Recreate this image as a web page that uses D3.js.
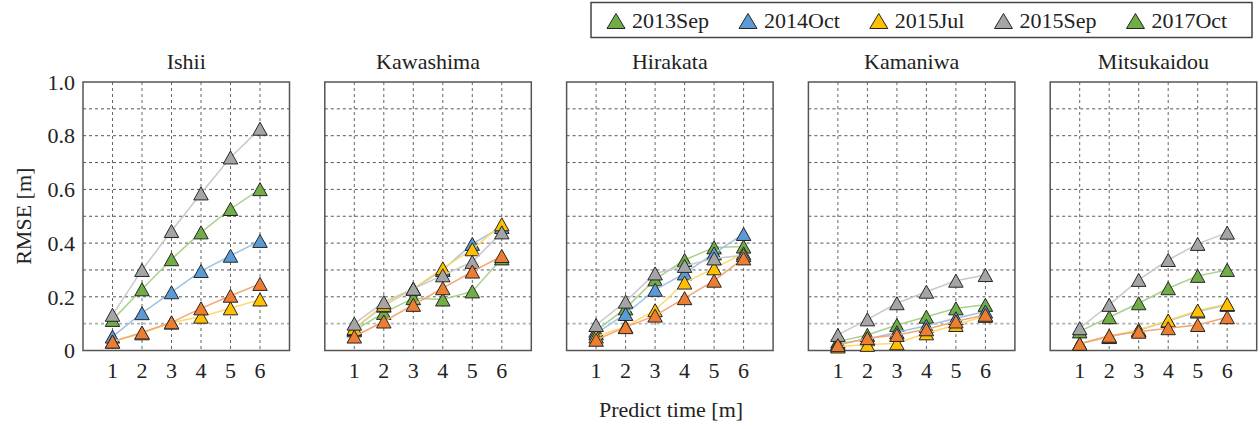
<!DOCTYPE html>
<html>
<head>
<meta charset="utf-8">
<script src="https://cdn.jsdelivr.net/npm/d3@7"></script>
<style>
  body { margin: 0; background: #fff; }
  text { font-family: "Liberation Serif", "Times New Roman", serif; fill: #222; }
</style>
</head>
<body>
<div class="chart"></div>
<script>
// data
const categories = [1, 2, 3, 4, 5, 6];
const sites = ['Ishii', 'Kawashima', 'Hirakata', 'Kamaniwa', 'Mitsukaidou'];
const seriesNames = ['2013Sep', '2014Oct', '2015Jul', '2015Sep', '2017Oct'];
const yTicks = [0, 0.2, 0.4, 0.6, 0.8, 1.0];
const yTickLabels = ['0', '0.2', '0.4', '0.6', '0.8', '1.0'];
const gridY = [0.1, 0.2, 0.3, 0.4, 0.5, 0.6, 0.7, 0.8, 0.9];

// one row per site, in the order of `sites`
const sep2013 = [
  [0.114, 0.228, 0.340, 0.440, 0.527, 0.601],
  [0.075, 0.140, 0.195, 0.190, 0.220, 0.343],
  [0.074, 0.157, 0.265, 0.337, 0.384, 0.387],
  [0.033, 0.058, 0.095, 0.126, 0.157, 0.170],
  [0.071, 0.124, 0.176, 0.232, 0.278, 0.300]
];
const oct2014 = [
  [0.052, 0.139, 0.217, 0.296, 0.353, 0.408],
  [0.080, 0.167, 0.230, 0.300, 0.397, 0.460],
  [0.064, 0.136, 0.226, 0.287, 0.362, 0.434],
  [0.025, 0.042, 0.068, 0.092, 0.120, 0.145],
  [0.025, 0.050, 0.075, 0.110, 0.145, 0.170]
];
const jul2015 = [
  [0.033, 0.064, 0.104, 0.126, 0.157, 0.190],
  [0.083, 0.170, 0.230, 0.306, 0.377, 0.470],
  [0.052, 0.089, 0.150, 0.253, 0.306, 0.362],
  [0.015, 0.021, 0.027, 0.064, 0.095, 0.129],
  [0.025, 0.052, 0.077, 0.112, 0.149, 0.173]
];
const sep2015 = [
  [0.133, 0.300, 0.445, 0.585, 0.719, 0.826],
  [0.100, 0.180, 0.230, 0.280, 0.330, 0.440],
  [0.095, 0.182, 0.287, 0.315, 0.343, 0.355],
  [0.058, 0.116, 0.176, 0.219, 0.260, 0.281],
  [0.083, 0.170, 0.263, 0.337, 0.397, 0.439]
];
const oct2017 = [
  [0.033, 0.067, 0.105, 0.157, 0.204, 0.248],
  [0.052, 0.108, 0.170, 0.232, 0.294, 0.352],
  [0.040, 0.087, 0.130, 0.195, 0.260, 0.343],
  [0.020, 0.046, 0.058, 0.079, 0.108, 0.133],
  [0.025, 0.055, 0.070, 0.083, 0.095, 0.124]
];
const seriesValues = [sep2013, oct2014, jul2015, sep2015, oct2017];

const markerColors = ['#70ad47', '#5b9bd5', '#ffc000', '#a5a5a5', '#ed7d31'];
const lineColors = ['#a9d18e', '#9dc3e6', '#ffd966', '#c9c9c9', '#f4a672'];
const legendColors = ['#70ad47', '#5b9bd5', '#ffc000', '#a5a5a5', '#70ad47'];

const outerWidth = 1260;
const outerHeight = 429;
const plotTop = 82;
const plotBottom = 350.5;
const plotWidth = 206.5;
const firstLeft = 83;
const panelStep = 241.8;

const svg = d3.select('.chart')
  .append('svg')
    .attr('width', outerWidth)
    .attr('height', outerHeight);

const x = d3.scaleLinear().domain([0, 7]).range([0, plotWidth]);
const y = d3.scaleLinear().domain([0, 1]).range([plotBottom, plotTop]);

function triangle(w, h) {
  return `M0,${-h / 2}L${w / 2},${h / 2}L${-w / 2},${h / 2}Z`;
}

const line = d3.line()
  .x((d, i) => x(categories[i]))
  .y(d => y(d));

sites.forEach(function (site, s) {
  const g = svg.append('g')
    .attr('transform', `translate(${firstLeft + s * panelStep}, 0)`);

  // title
  g.append('text')
    .attr('x', plotWidth / 2)
    .attr('y', 69)
    .attr('text-anchor', 'middle')
    .style('font-size', '22px')
    .text(site);

  // grid
  g.selectAll('.hgrid')
    .data(gridY)
    .enter().append('line')
      .attr('x1', 0).attr('x2', plotWidth)
      .attr('y1', d => y(d)).attr('y2', d => y(d))
      .attr('stroke', d => Math.abs(d - 0.1) < 1e-9 ? '#b0b0b0' : '#555')
      .attr('stroke-width', d => Math.abs(d - 0.1) < 1e-9 ? 1.6 : 1)
      .attr('stroke-dasharray', '3,3');

  g.selectAll('.vgrid')
    .data(categories)
    .enter().append('line')
      .attr('x1', d => x(d)).attr('x2', d => x(d))
      .attr('y1', plotTop).attr('y2', plotBottom)
      .attr('stroke', '#666')
      .attr('stroke-width', 1)
      .attr('stroke-dasharray', '3,3');

  // border
  g.append('rect')
    .attr('x', 0).attr('y', plotTop)
    .attr('width', plotWidth).attr('height', plotBottom - plotTop)
    .attr('fill', 'none')
    .attr('stroke', '#555')
    .attr('stroke-width', 1.5);

  // x tick labels
  g.selectAll('.xtick')
    .data(categories)
    .enter().append('text')
      .attr('x', d => x(d))
      .attr('y', 378)
      .attr('text-anchor', 'middle')
      .style('font-size', '22px')
      .text(d => d);

  // series, later ones drawn on top
  seriesValues.forEach(function (vals, k) {
    const v = vals[s];
    g.append('path')
      .attr('d', line(v))
      .attr('fill', 'none')
      .attr('stroke', lineColors[k])
      .attr('stroke-width', 1.5);
    g.selectAll('.m' + k)
      .data(v)
      .enter().append('path')
        .attr('d', triangle(14.5, 13))
        .attr('transform', (d, i) => `translate(${x(categories[i])}, ${y(d)})`)
        .attr('fill', markerColors[k])
        .attr('stroke', '#262626')
        .attr('stroke-width', 1);
  });

  if (s === 0) {
    g.selectAll('.ytick')
      .data(yTicks)
      .enter().append('text')
        .attr('x', -8)
        .attr('y', d => y(d))
        .attr('dy', '0.35em')
        .attr('text-anchor', 'end')
        .style('font-size', '22px')
        .text((d, i) => yTickLabels[i]);
  }
});

// y axis title
svg.append('text')
  .attr('transform', `translate(31, ${(plotTop + plotBottom) / 2}) rotate(-90)`)
  .attr('text-anchor', 'middle')
  .style('font-size', '22px')
  .text('RMSE [m]');

// x axis title
svg.append('text')
  .attr('x', 671)
  .attr('y', 417)
  .attr('text-anchor', 'middle')
  .style('font-size', '22px')
  .text('Predict time [m]');

// legend
const legend = svg.append('g');
const legendBox = legend.append('rect')
  .attr('y', 2.5)
  .attr('height', 35)
  .attr('fill', '#fff')
  .attr('stroke', '#444')
  .attr('stroke-width', 1.5);

let cursor = 607;
seriesNames.forEach(function (name, k) {
  legend.append('path')
    .attr('d', triangle(18, 15))
    .attr('transform', `translate(${cursor + 9}, 21)`)
    .attr('fill', legendColors[k])
    .attr('stroke', '#262626')
    .attr('stroke-width', 1);
  const t = legend.append('text')
    .attr('x', cursor + 25)
    .attr('y', 28)
    .style('font-size', '22px')
    .text(name);
  cursor += 25 + t.node().getComputedTextLength() + 30;
});
legendBox
  .attr('x', 591)
  .attr('width', Math.max(cursor - 30 + 15, 1252) - 591);
</script>
</body>
</html>
